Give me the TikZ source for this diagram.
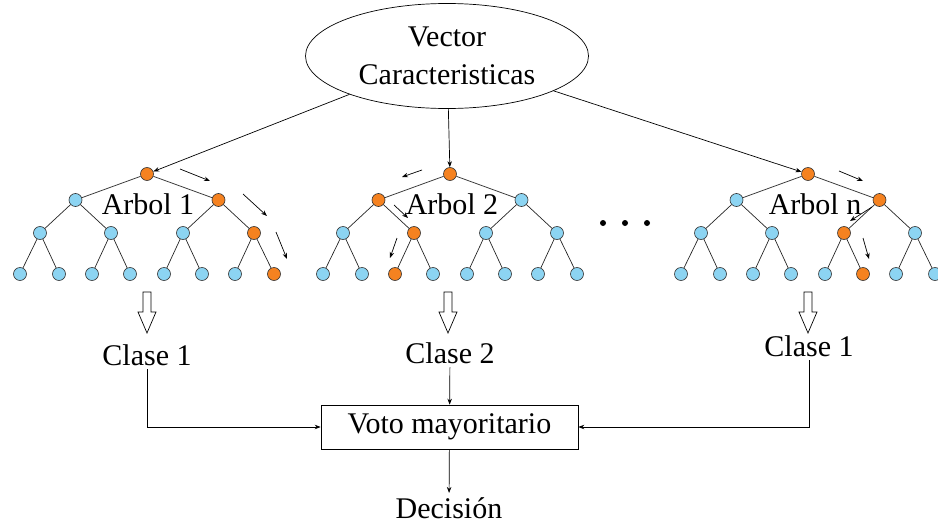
\documentclass[tikz,border=0pt]{standalone}
\usepackage{fontspec}
\setmainfont{Liberation Serif}
\usetikzlibrary{shapes.geometric,arrows.meta}

\definecolor{celeste}{RGB}{140,212,242}
\definecolor{naranja}{RGB}{245,130,32}

\tikzset{
	hoja/.style={circle,draw=black!80,line width=0.6pt,minimum size=13pt,inner sep=0pt},
	rama/.style={line width=0.7pt,black!85},
	flecha/.style={line width=0.7pt,-{Stealth[length=6pt,width=4.5pt]}},
	texto/.style={font=\fontsize{30}{33}\selectfont,inner sep=4pt},
}

\begin{document}
\begin{tikzpicture}[x=1pt,y=-1pt]
	\useasboundingbox (0,0) rectangle (938,525);
	
	% vector de entrada
	\node[ellipse,draw,line width=0.7pt,minimum width=283pt,minimum height=105pt,inner sep=0pt,texto,font=\fontsize{30}{38}\selectfont,align=center] (vec) at (447,56) {Vector\\Caracteristicas};
	
	% arboles: nodos numerados como un heap (hijos 2k y 2k+1)
	\foreach \arb/\rx/\oa/\ob/\oc in {1/147/3/7/15, 2/450/2/5/10, n/808/3/6/13}{
		\foreach \k/\dx/\y in {1/0/174, 2/-71.5/200, 3/71.5/200,
			4/-107/233, 5/-36/233, 6/36/233, 7/107/233,
			8/-127/274, 9/-88/274, 10/-55/274, 11/-17/274,
			12/17/274, 13/55/274, 14/88/274, 15/127/274}{
			\pgfmathtruncatemacro\es{(\k==1)||(\k==\oa)||(\k==\ob)||(\k==\oc)}
			\ifnum\es=1 \def\col{naranja}\else\def\col{celeste}\fi
			\node[hoja,fill=\col] (t\arb-\k) at (\rx+\dx,\y) {};
		}
		\foreach \k in {2,...,15}{
			\pgfmathtruncatemacro\p{floor(\k/2)}
			\draw[rama] (t\arb-\p) -- (t\arb-\k);
		}
	}
	\node[texto,anchor=base] (l1) at (148,214) {Arbol 1};
	\node[texto,anchor=base] (l2) at (452,214) {Arbol 2};
	\node[texto,anchor=base] (ln) at (815,214) {Arbol n};
	
	% recorridos
	\foreach \xa/\ya/\xb/\yb in {180/169/210/181, 243/194/267/216, 276/232/287/259,
		422/170/402/177, 394/205/408/218, 397/238/390/258,
		839/171/863/181, 872/207/850/221, 863/238/869/259}
		\draw[flecha] (\xa,\ya) -- (\xb,\yb);
	
	\foreach \x in {603,625,647}
		\fill (\x,223) circle (3pt);
	
	\draw[flecha] (vec) -- (t1-1);
	\draw[flecha] (vec) -- (t2-1);
	\draw[flecha] (vec) -- (tn-1);
	
	% flechas huecas
	\foreach \x in {147,448,808}
		\draw[line width=0.7pt] (\x-4,292) -- (\x+4,292) -- (\x+4,312) -- (\x+9,312) -- (\x,333) -- (\x-9,312) -- (\x-4,312) -- cycle;
	
	\node[texto,anchor=base] (c1) at (147,365) {Clase 1};
	\node[texto,anchor=base] (c2) at (450,363) {Clase 2};
	\node[texto,anchor=base] (cn) at (809,356) {Clase 1};
	\node[texto,draw,line width=0.7pt,minimum width=257pt,minimum height=44pt] (voto) at (449.5,427) {Voto mayoritario};
	\node[texto,anchor=base] (dec) at (449,518) {Decisión};
	
	\draw[flecha] (c1) |- (voto);
	\draw[flecha] (cn) |- (voto);
	\draw[flecha] (c2) -- (voto);
	\draw[flecha] (voto) -- (dec);
\end{tikzpicture}
\end{document}
